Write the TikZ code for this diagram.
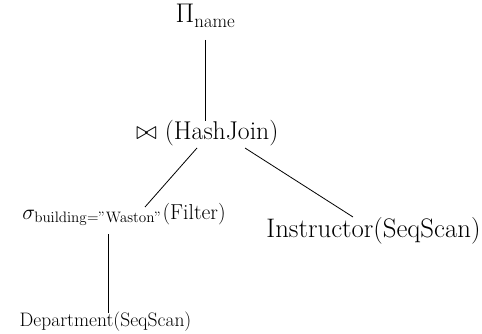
\documentclass[tikz,border=0pt]{standalone}
\usepackage{fix-cm}
\usepackage{amsmath}
\usetikzlibrary{calc}
\tikzset{
  lbl/.style={inner sep=0pt, anchor=base},
  fs/.style={font=\fontsize{#1}{#1}\selectfont},
  edge/.style={line width=0.8pt}
}
\begin{document}
\begin{tikzpicture}[x=1pt,y=-1pt]
\useasboundingbox (0,0) rectangle (482,334);
\node[lbl,fs=27] (pi) at (205.5,23) {$\Pi_{\mathrm{name}}$};
\node[lbl,fs=25.7] (hj) at (207.3,140) {$\bowtie$ (HashJoin)};
\node[lbl,fs=21.6] (filter) at (124,219) {$\sigma_{\mathrm{building{=}"Waston"}}$(Filter)};
\node[lbl,fs=26.8] (instr) at (373.5,237) {Instructor(SeqScan)};
\node[lbl,fs=19.5] (dept) at (105.5,326) {Department(SeqScan)};
\draw[edge] ($(pi.base)+(-0.5,17)$) -- ($(hj.base)+(-2.3,-19)$);
\draw[edge] ($(hj.base)+(-10.3,8)$) -- ($(filter.base)+(21,-12)$);
\draw[edge] ($(hj.base)+(37.7,8)$) -- ($(instr.base)+(-20.5,-20)$);
\draw[edge] ($(filter.base)+(-16,15)$) -- ($(dept.base)+(2.5,-13)$);
\end{tikzpicture}
\end{document}
